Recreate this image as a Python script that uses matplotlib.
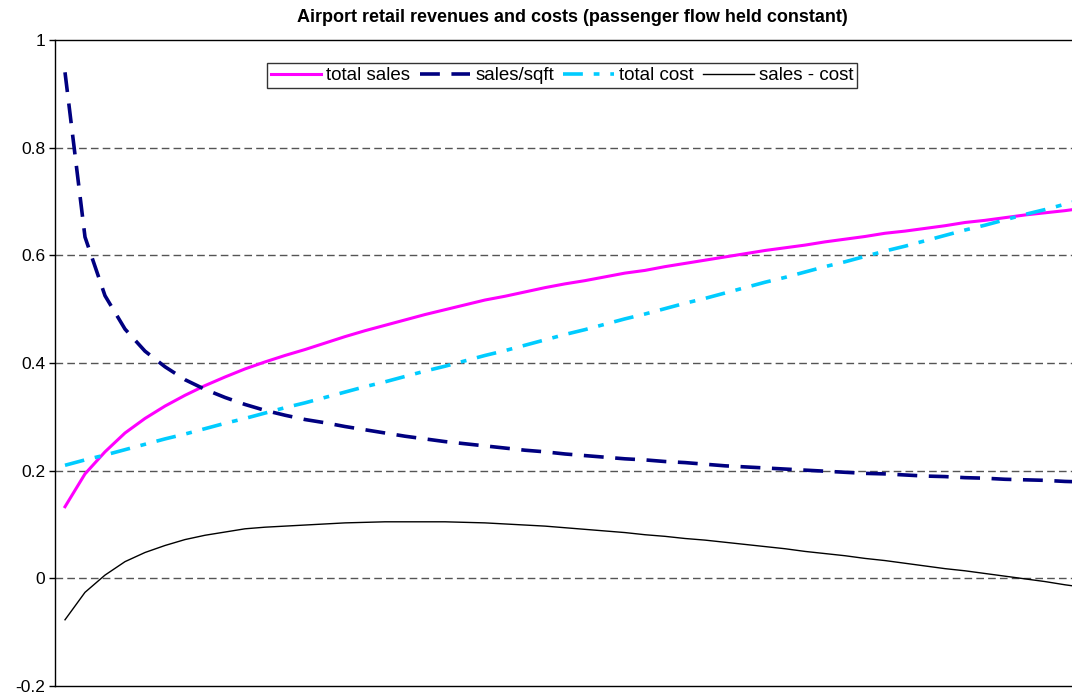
import numpy as np
import matplotlib
matplotlib.use('Agg')
import matplotlib.pyplot as plt

plt.rcParams['font.family'] = ['Liberation Sans', 'DejaVu Sans']

# values, one per category step (x axis unlabeled)
total_sales = [0.133, 0.194, 0.235, 0.270, 0.297, 0.320, 0.340, 0.358, 0.374, 0.389,
               0.402, 0.414, 0.425, 0.437, 0.449, 0.460, 0.470, 0.480, 0.490, 0.499,
               0.508, 0.517, 0.524, 0.532, 0.540, 0.547, 0.553, 0.560, 0.567, 0.572,
               0.579, 0.585, 0.591, 0.597, 0.603, 0.609, 0.614, 0.619, 0.625, 0.630,
               0.635, 0.641, 0.645, 0.650, 0.655, 0.661, 0.665, 0.670, 0.675, 0.679,
               0.683, 0.688]
sales_sqft = [0.940, 0.634, 0.525, 0.463, 0.422, 0.393, 0.369, 0.351, 0.336, 0.323,
              0.312, 0.303, 0.295, 0.289, 0.282, 0.276, 0.270, 0.264, 0.259, 0.254,
              0.250, 0.246, 0.242, 0.238, 0.235, 0.231, 0.228, 0.225, 0.222, 0.220,
              0.217, 0.215, 0.212, 0.209, 0.207, 0.205, 0.203, 0.201, 0.199, 0.197,
              0.195, 0.194, 0.192, 0.190, 0.189, 0.187, 0.186, 0.184, 0.183, 0.182,
              0.180, 0.179]
total_cost = [0.210, 0.220, 0.229, 0.239, 0.249, 0.259, 0.268, 0.278, 0.288, 0.297,
              0.307, 0.317, 0.326, 0.336, 0.346, 0.356, 0.365, 0.375, 0.385, 0.394,
              0.404, 0.414, 0.423, 0.433, 0.443, 0.453, 0.462, 0.472, 0.482, 0.491,
              0.501, 0.511, 0.520, 0.530, 0.540, 0.550, 0.559, 0.569, 0.579, 0.588,
              0.598, 0.608, 0.617, 0.627, 0.637, 0.647, 0.656, 0.666, 0.676, 0.685,
              0.695, 0.705]
sales_minus_cost = [-0.077, -0.026, 0.006, 0.031, 0.048, 0.061, 0.072, 0.080, 0.086, 0.092,
                    0.095, 0.097, 0.099, 0.101, 0.103, 0.104, 0.105, 0.105, 0.105, 0.105,
                    0.104, 0.103, 0.101, 0.099, 0.097, 0.094, 0.091, 0.088, 0.085, 0.081,
                    0.078, 0.074, 0.071, 0.067, 0.063, 0.059, 0.055, 0.050, 0.046, 0.042,
                    0.037, 0.033, 0.028, 0.023, 0.018, 0.014, 0.009, 0.004, -0.001, -0.006,
                    -0.012, -0.017]

y_ticks = [-0.2, 0, 0.2, 0.4, 0.6, 0.8, 1]
y_labels = ['-0.2', '0', '0.2', '0.4', '0.6', '0.8', '1']

W, H = 1072, 693
fig = plt.figure(figsize=(W / 100, H / 100), dpi=100)
ax = fig.add_axes([55 / W, 1 - 686 / H, 1 - 55 / W, (686 - 40) / H])

x = np.arange(len(total_sales))

# grid lines
for yv in [0, 0.2, 0.4, 0.6, 0.8]:
    ax.axhline(yv, color='#555555', lw=1.0, ls=(0, (5.5, 3.0)), zorder=1)

ax.plot(x, total_sales, color='#FF00FF', lw=2.2, label='total sales', zorder=3)
ax.plot(x, sales_sqft, color='#000080', lw=2.6, ls=(0, (5.5, 3.2)),
        label='sales/sqft', zorder=3)
ax.plot(x, total_cost, color='#00CCFF', lw=2.6, ls=(0, (5.5, 3.0, 1.6, 3.0)),
        label='total cost', zorder=3)
ax.plot(x, sales_minus_cost, color='black', lw=1.0, label='sales - cost', zorder=3)

ax.set_xlim(-0.5, 50.35)
ax.set_ylim(-0.2, 1)
ax.set_xticks([])
ax.set_yticks(y_ticks)
ax.set_yticklabels(y_labels, fontsize=12.5)
ax.tick_params(axis='y', length=4, width=1, pad=3, direction='out')

for s in ['left', 'top', 'bottom']:
    ax.spines[s].set_color('black')
    ax.spines[s].set_linewidth(1.0)
ax.spines['right'].set_visible(False)

leg = ax.legend(loc='upper center', bbox_to_anchor=(0.4985, 0.964), ncol=4,
                fontsize=13.5, frameon=True, fancybox=False, handlelength=2.7,
                handletextpad=0.27, columnspacing=0.5, borderpad=0.2,
                borderaxespad=0)
leg.get_frame().set_edgecolor('black')
leg.get_frame().set_linewidth(1.0)

fig.text(572 / W, 1 - 18 / H,
         'Airport retail revenues and costs (passenger flow held constant)',
         ha='center', va='center', fontsize=13, fontweight='bold')

fig.savefig('out.png', dpi=100)
